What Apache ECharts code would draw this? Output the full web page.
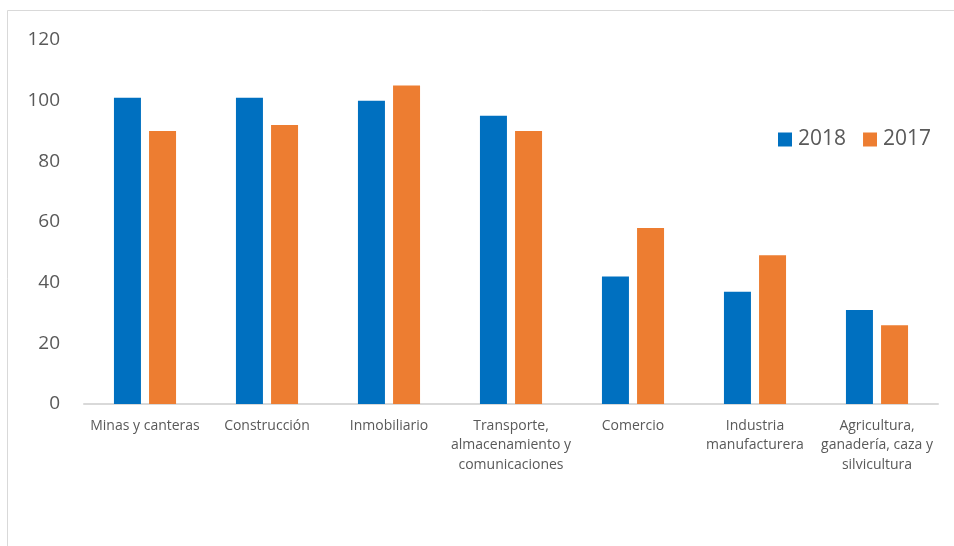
<!DOCTYPE html>
<html>
<head>
<meta charset="utf-8">
<script src="https://cdn.jsdelivr.net/npm/echarts@6/dist/echarts.min.js"></script>
<style>
  html, body { margin: 0; padding: 0; background: #ffffff; }
  #chart { width: 954px; height: 546px; }
</style>
</head>
<body>
<div id="chart"></div>
<script>
// Sector categories (line breaks as shown under the axis)
const categories = [
  'Minas y canteras',
  'Construcción',
  'Inmobiliario',
  'Transporte,\nalmacenamiento y\ncomunicaciones',
  'Comercio',
  'Industria\nmanufacturera',
  'Agricultura,\nganadería, caza y\nsilvicultura'
];
const values2018 = [101, 101, 100, 95, 42, 37, 31];
const values2017 = [90, 92, 105, 90, 58, 49, 26];
const seriesNames = ['2018', '2017'];
const yTicks = { min: 0, max: 120, interval: 20 };

const textColor = '#595959';
const fontFamily = '"Open Sans", "Liberation Sans", sans-serif';

const chart = echarts.init(document.getElementById('chart'), null, { renderer: 'canvas' });
chart.setOption({
  backgroundColor: '#ffffff',
  animation: false,
  graphic: [{
    type: 'rect',
    shape: { x: 7.5, y: 10.5, width: 1000, height: 600 },
    style: { fill: 'none', stroke: '#d9d9d9', lineWidth: 1 },
    silent: true,
    z: -1
  }],
  grid: { left: 84, right: 16, top: 40, bottom: 142, containLabel: false },
  legend: {
    left: 773,
    top: 124,
    itemWidth: 14,
    itemHeight: 14,
    itemGap: 17,
    icon: 'rect',
    textStyle: { color: textColor, fontSize: 21, fontFamily: fontFamily, padding: [0, 0, 0, 1] },
    data: seriesNames
  },
  xAxis: {
    type: 'category',
    data: categories,
    axisLine: { lineStyle: { color: '#d9d9d9', width: 2 } },
    axisTick: { show: false },
    axisLabel: {
      interval: 0,
      color: textColor,
      fontSize: 14,
      lineHeight: 19.5,
      margin: 12,
      fontFamily: fontFamily
    }
  },
  yAxis: {
    type: 'value',
    min: yTicks.min,
    max: yTicks.max,
    interval: yTicks.interval,
    axisLine: { show: false },
    axisTick: { show: false },
    splitLine: { show: false },
    axisLabel: { color: textColor, fontSize: 19, margin: 24, fontFamily: fontFamily }
  },
  series: [
    {
      name: seriesNames[0],
      type: 'bar',
      data: values2018,
      barWidth: 27,
      barGap: '30%',
      itemStyle: { color: '#0070C0' }
    },
    {
      name: seriesNames[1],
      type: 'bar',
      data: values2017,
      barWidth: 27,
      barGap: '30%',
      itemStyle: { color: '#ED7D31' }
    }
  ]
});
</script>
</body>
</html>
